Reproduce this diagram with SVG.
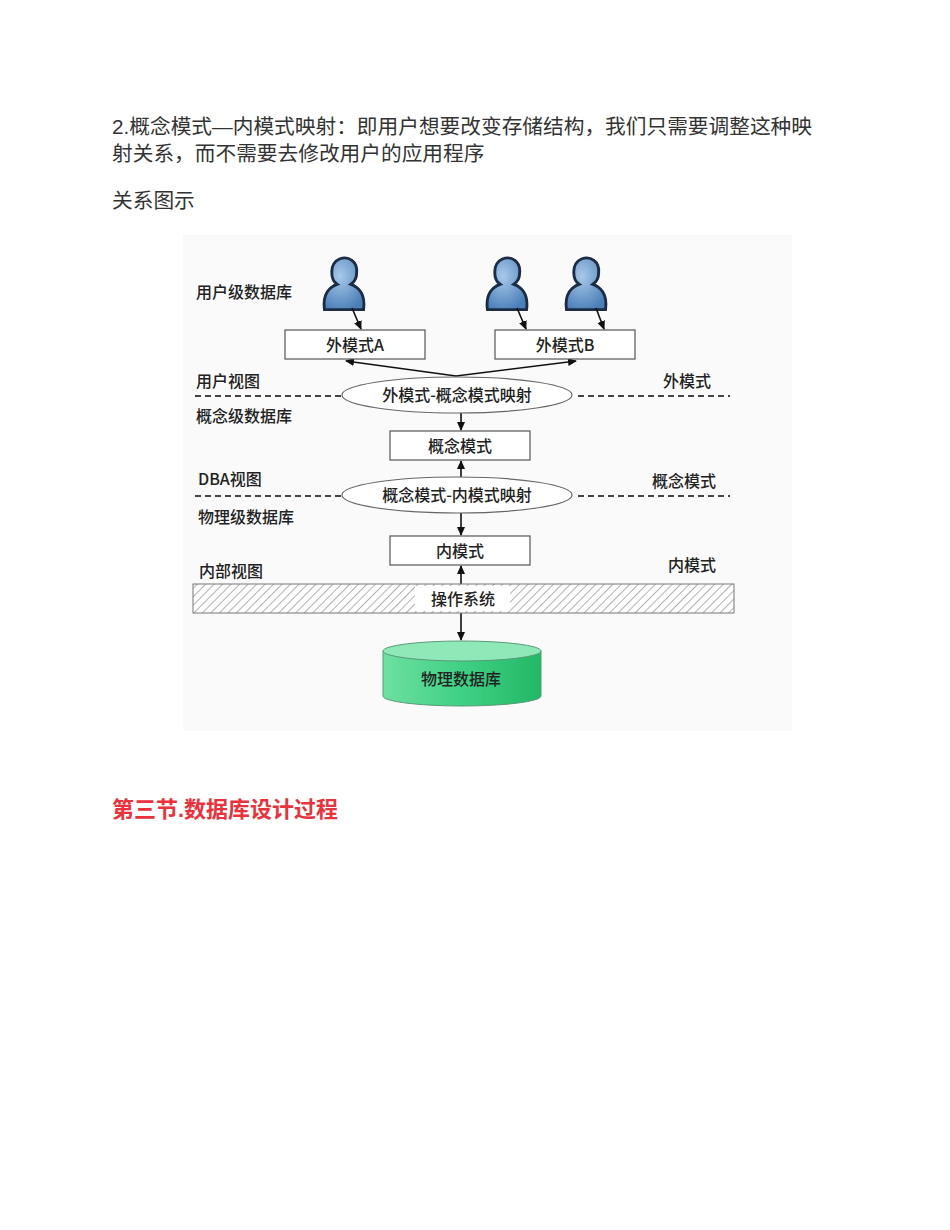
<svg xmlns="http://www.w3.org/2000/svg" width="950" height="1230" viewBox="0 0 950 1230">
<style>
.t{font-family:"Liberation Sans","Noto Sans CJK SC",sans-serif;fill:#333}
.d{font-family:"Noto Sans CJK SC",serif;fill:#222;font-size:16px;font-weight:500}
.box{fill:#fff;stroke:#555;stroke-width:1.2}
.ln{stroke:#111;stroke-width:1.6;fill:none}
.dash{stroke:#444;stroke-width:2;stroke-dasharray:6,4}
</style>
<defs>
<marker id="ah" markerWidth="10" markerHeight="10" refX="8" refY="5" orient="auto" markerUnits="userSpaceOnUse"><path d="M0,1 L9,5 L0,9 z" fill="#111"/></marker>
<pattern id="hatch" width="6" height="6" patternUnits="userSpaceOnUse" patternTransform="rotate(45)"><rect width="6" height="6" fill="#fff"/><line x1="0" y1="0" x2="0" y2="6" stroke="#999" stroke-width="1.5"/></pattern>
<linearGradient id="grn" x1="0" x2="1"><stop offset="0" stop-color="#6de0a0"/><stop offset="0.5" stop-color="#3fd084"/><stop offset="1" stop-color="#22b865"/></linearGradient>
<radialGradient id="usr" cx="0.4" cy="0.35" r="0.7"><stop offset="0" stop-color="#a8c8ea"/><stop offset="1" stop-color="#4b7fb8"/></radialGradient>
<g id="person"><path d="M-17,24 C-19,10 -12,4 -6,2 C-12,-2 -13,-16 -4,-20 C4,-23 12,-18 11,-8 C11,-3 9,0 6,2 C12,4 19,10 17,24 Z" fill="url(#usr)" stroke="#1c2c44" stroke-width="2.5"/></g>
</defs>
<rect width="950" height="1230" fill="#fff"/>
<text class="t" x="112" y="134" font-size="20.7">2.概念模式—内模式映射：即用户想要改变存储结构，我们只需要调整这种映</text>
<text class="t" x="112" y="161" font-size="20.7">射关系，而不需要去修改用户的应用程序</text>
<text class="t" x="112" y="208" font-size="20.7">关系图示</text>
<rect x="183" y="235" width="609" height="496" fill="#fafafb"/>
<g id="labels">
<text class="d" x="196" y="298">用户级数据库</text>
<text class="d" x="196" y="387">用户视图</text>
<text class="d" x="663" y="387">外模式</text>
<text class="d" x="196" y="422">概念级数据库</text>
<text class="d" x="198" y="485">DBA视图</text>
<text class="d" x="652" y="487">概念模式</text>
<text class="d" x="198" y="523">物理级数据库</text>
<text class="d" x="199" y="577">内部视图</text>
<text class="d" x="668" y="571">内模式</text>
</g>
<g id="users">
<use href="#person" transform="translate(344,282) scale(1.15)"/>
<use href="#person" transform="translate(507,282) scale(1.15)"/>
<use href="#person" transform="translate(586,282) scale(1.15)"/>
</g>
<g id="connectors">
<line class="dash" x1="195" y1="396" x2="342" y2="396"/>
<line class="dash" x1="578" y1="396" x2="730" y2="396"/>
<line class="dash" x1="195" y1="496" x2="342" y2="496"/>
<line class="dash" x1="578" y1="496" x2="730" y2="496"/>
<line class="ln" x1="352" y1="308" x2="361" y2="329" marker-end="url(#ah)"/>
<line class="ln" x1="517" y1="308" x2="526" y2="329" marker-end="url(#ah)"/>
<line class="ln" x1="596" y1="308" x2="604" y2="329" marker-end="url(#ah)"/>
<line class="ln" x1="456" y1="376" x2="346" y2="361" marker-end="url(#ah)"/>
<line class="ln" x1="456" y1="376" x2="576" y2="361" marker-end="url(#ah)"/>
<line class="ln" x1="461" y1="412" x2="461" y2="430" marker-end="url(#ah)"/>
<line class="ln" x1="461" y1="478" x2="461" y2="461" marker-end="url(#ah)"/>
<line class="ln" x1="461" y1="513" x2="461" y2="535" marker-end="url(#ah)"/>
<line class="ln" x1="461" y1="584" x2="461" y2="566" marker-end="url(#ah)"/>
<line class="ln" x1="461" y1="613" x2="461" y2="640" marker-end="url(#ah)"/>
</g>
<g id="extA"><rect class="box" x="285" y="330" width="140" height="29"/><text class="d" x="355" y="351" text-anchor="middle">外模式A</text></g>
<g id="extB"><rect class="box" x="495" y="330" width="140" height="29"/><text class="d" x="565" y="351" text-anchor="middle">外模式B</text></g>
<g id="map1"><ellipse cx="457" cy="395" rx="115" ry="18" fill="#fff" stroke="#666" stroke-width="1.2"/><text class="d" x="457" y="401" text-anchor="middle">外模式-概念模式映射</text></g>
<g id="concept"><rect class="box" x="390" y="431" width="140" height="29"/><text class="d" x="460" y="452" text-anchor="middle">概念模式</text></g>
<g id="map2"><ellipse cx="457" cy="495" rx="115" ry="18" fill="#fff" stroke="#666" stroke-width="1.2"/><text class="d" x="457" y="501" text-anchor="middle">概念模式-内模式映射</text></g>
<g id="internal"><rect class="box" x="390" y="536" width="140" height="29"/><text class="d" x="460" y="557" text-anchor="middle">内模式</text></g>
<g id="os"><rect x="193" y="584" width="541" height="29" fill="url(#hatch)" stroke="#777" stroke-width="1"/><rect x="415" y="586" width="95" height="25" fill="#fff"/><text class="d" x="463" y="605" text-anchor="middle">操作系统</text></g>
<g id="db"><path d="M383,651 L383,696 A79,10 0 0 0 541,696 L541,651" fill="url(#grn)" stroke="#5a9a78" stroke-width="1"/><ellipse cx="462" cy="651" rx="79" ry="10" fill="#8ee8b8" stroke="#5a9a78" stroke-width="1"/><text class="d" x="461" y="685" text-anchor="middle" font-size="20">物理数据库</text></g>
<text x="112" y="817" font-size="22" font-weight="bold" fill="#e8323c" font-family="Liberation Sans,Noto Sans CJK SC,sans-serif">第三节.数据库设计过程</text>
</svg>
